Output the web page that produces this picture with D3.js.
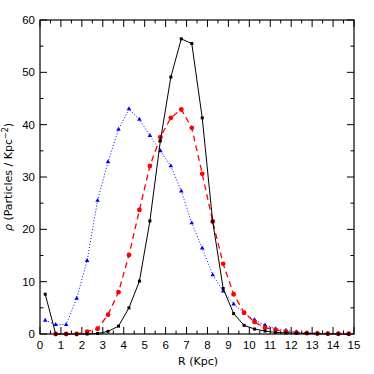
<!DOCTYPE html>
<html>
<head>
<meta charset="utf-8">
<script src="https://cdn.jsdelivr.net/npm/d3@7"></script>
<style>
  body { margin: 0; background: #fff; }
  text { font-family: "Liberation Sans", Arial, sans-serif; }
  .title { font-family: "DejaVu Sans", sans-serif; }
</style>
</head>
<body>
<div id="chart"></div>
<script>
// bin centres (Kpc)
const radius = [0.25, 0.75, 1.25, 1.75, 2.25, 2.75, 3.25, 3.75, 4.25, 4.75, 5.25, 5.75, 6.25, 6.75, 7.25,
                7.75, 8.25, 8.75, 9.25, 9.75, 10.25, 10.75, 11.25, 11.75, 12.25, 12.75, 13.25, 13.75, 14.25, 14.75];

const blackSeries = [7.6, 0, 0, 0, 0, 0.1, 0.5, 1.5, 5.0, 10.1, 21.6, 36.9, 49.1, 56.4, 55.5,
                     41.3, 21.5, 8.7, 3.9, 1.65, 0.95, 0.57, 0.3, 0.2, 0.15, 0.1, 0.05, 0.03, 0.02, 0.01];
const redSeries = [null, 0, 0, 0, 0.45, 1.0, 3.7, 8.0, 15.1, 23.7, 32.1, 37.6, 41.3, 42.9, 39.4,
                   30.6, 21.5, 13.4, 7.6, 4.1, 2.3, 1.2, 0.8, 0.45, 0.25, 0.15, 0.1, 0.07, 0.05, 0.05];
const blueSeries = [2.6, 1.8, 1.8, 6.8, 14.0, 25.5, 32.9, 39.1, 43.0, 41.0, 37.9, 35.0, 32.1, 27.3, 21.2,
                    16.4, 11.3, 8.2, 5.7, 4.0, 2.7, 1.7, 1.0, 0.7, 0.4, 0.25, 0.15, 0.1, 0.05, 0.03];

const xTicks = d3.range(0, 16, 1);
const yTicks = [0, 10, 20, 30, 40, 50, 60];

const W = 374, H = 374;
const margin = {top: 20, right: 20, bottom: 40, left: 40};
const width = W - margin.left - margin.right;
const height = H - margin.top - margin.bottom;

const svg = d3.select('#chart')
    .append('svg')
    .attr('width', W)
    .attr('height', H)
    .append('g')
    .attr('transform', 'translate(' + margin.left + ',' + margin.top + ')');

const x = d3.scaleLinear().domain([0, 15]).range([0, width]);
const y = d3.scaleLinear().domain([0, 60]).range([height, 0]);

// frame
svg.append('rect')
    .attr('width', width).attr('height', height)
    .attr('fill', 'none').attr('stroke', '#000').attr('stroke-width', 1.2);

// inward ticks on all four sides
const xMinor = d3.range(0, 15.01, 0.5);
const yMinor = d3.range(0, 60.01, 5);

function tickLen(v, step) { return Math.abs(v / step - Math.round(v / step)) < 1e-6 ? 7 : 3.5; }

xMinor.forEach(v => {
    const L = tickLen(v, 1);
    svg.append('line').attr('x1', x(v)).attr('x2', x(v)).attr('y1', height).attr('y2', height - L)
        .attr('stroke', '#000');
    svg.append('line').attr('x1', x(v)).attr('x2', x(v)).attr('y1', 0).attr('y2', L)
        .attr('stroke', '#000');
});
yMinor.forEach(v => {
    const L = tickLen(v, 10);
    svg.append('line').attr('x1', 0).attr('x2', L).attr('y1', y(v)).attr('y2', y(v))
        .attr('stroke', '#000');
    svg.append('line').attr('x1', width).attr('x2', width - L).attr('y1', y(v)).attr('y2', y(v))
        .attr('stroke', '#000');
});

// tick labels
svg.selectAll('.xlab').data(xTicks).enter().append('text')
    .attr('x', d => x(d)).attr('y', height + 15)
    .attr('text-anchor', 'middle').attr('font-size', 11.5)
    .text(d => d);
svg.selectAll('.ylab').data(yTicks).enter().append('text')
    .attr('x', -5).attr('y', d => y(d) + 4)
    .attr('text-anchor', 'end').attr('font-size', 11.5)
    .text(d => d);

// axis titles
svg.append('text')
    .attr('class', 'title')
    .attr('x', width / 2 + 1).attr('y', height + 31)
    .attr('text-anchor', 'middle').attr('font-size', 11)
    .text('R (Kpc)');
svg.append('text')
    .attr('class', 'title')
    .attr('transform', 'translate(-28,' + (height / 2) + ') rotate(-90)')
    .attr('text-anchor', 'middle').attr('font-size', 11)
    .html('<tspan font-style="italic">ρ</tspan> (Particles / Kpc<tspan dy="-4" font-size="8">−2</tspan><tspan dy="4">)</tspan>');

function series(vals) {
    return radius.map((r, i) => ({r: r, v: vals[i]})).filter(d => d.v !== null);
}

const line = d3.line().x(d => x(d.r)).y(d => y(d.v));

// blue dotted, triangles
const blue = series(blueSeries);
svg.append('path').datum(blue).attr('d', line)
    .attr('fill', 'none').attr('stroke', '#0000ff').attr('stroke-width', 1)
    .attr('stroke-dasharray', '1,2');
svg.selectAll('.tri').data(blue).enter().append('path')
    .attr('transform', d => 'translate(' + x(d.r) + ',' + y(d.v) + ')')
    .attr('d', d3.symbol().type(d3.symbolTriangle).size(9))
    .attr('fill', '#0000ff');

// red dashed, circles
const red = series(redSeries);
svg.append('path').datum(red).attr('d', line)
    .attr('fill', 'none').attr('stroke', '#ff0000').attr('stroke-width', 1.3)
    .attr('stroke-dasharray', '6,4');
svg.selectAll('.dot').data(red).enter().append('circle')
    .attr('cx', d => x(d.r)).attr('cy', d => y(d.v)).attr('r', 2.4)
    .attr('fill', '#ff0000');

// black solid, squares
const black = series(blackSeries);
svg.append('path').datum(black).attr('d', line)
    .attr('fill', 'none').attr('stroke', '#000').attr('stroke-width', 1);
svg.selectAll('.sq').data(black).enter().append('rect')
    .attr('x', d => x(d.r) - 1.5).attr('y', d => y(d.v) - 1.5)
    .attr('width', 3).attr('height', 3)
    .attr('fill', '#000');
</script>
</body>
</html>
